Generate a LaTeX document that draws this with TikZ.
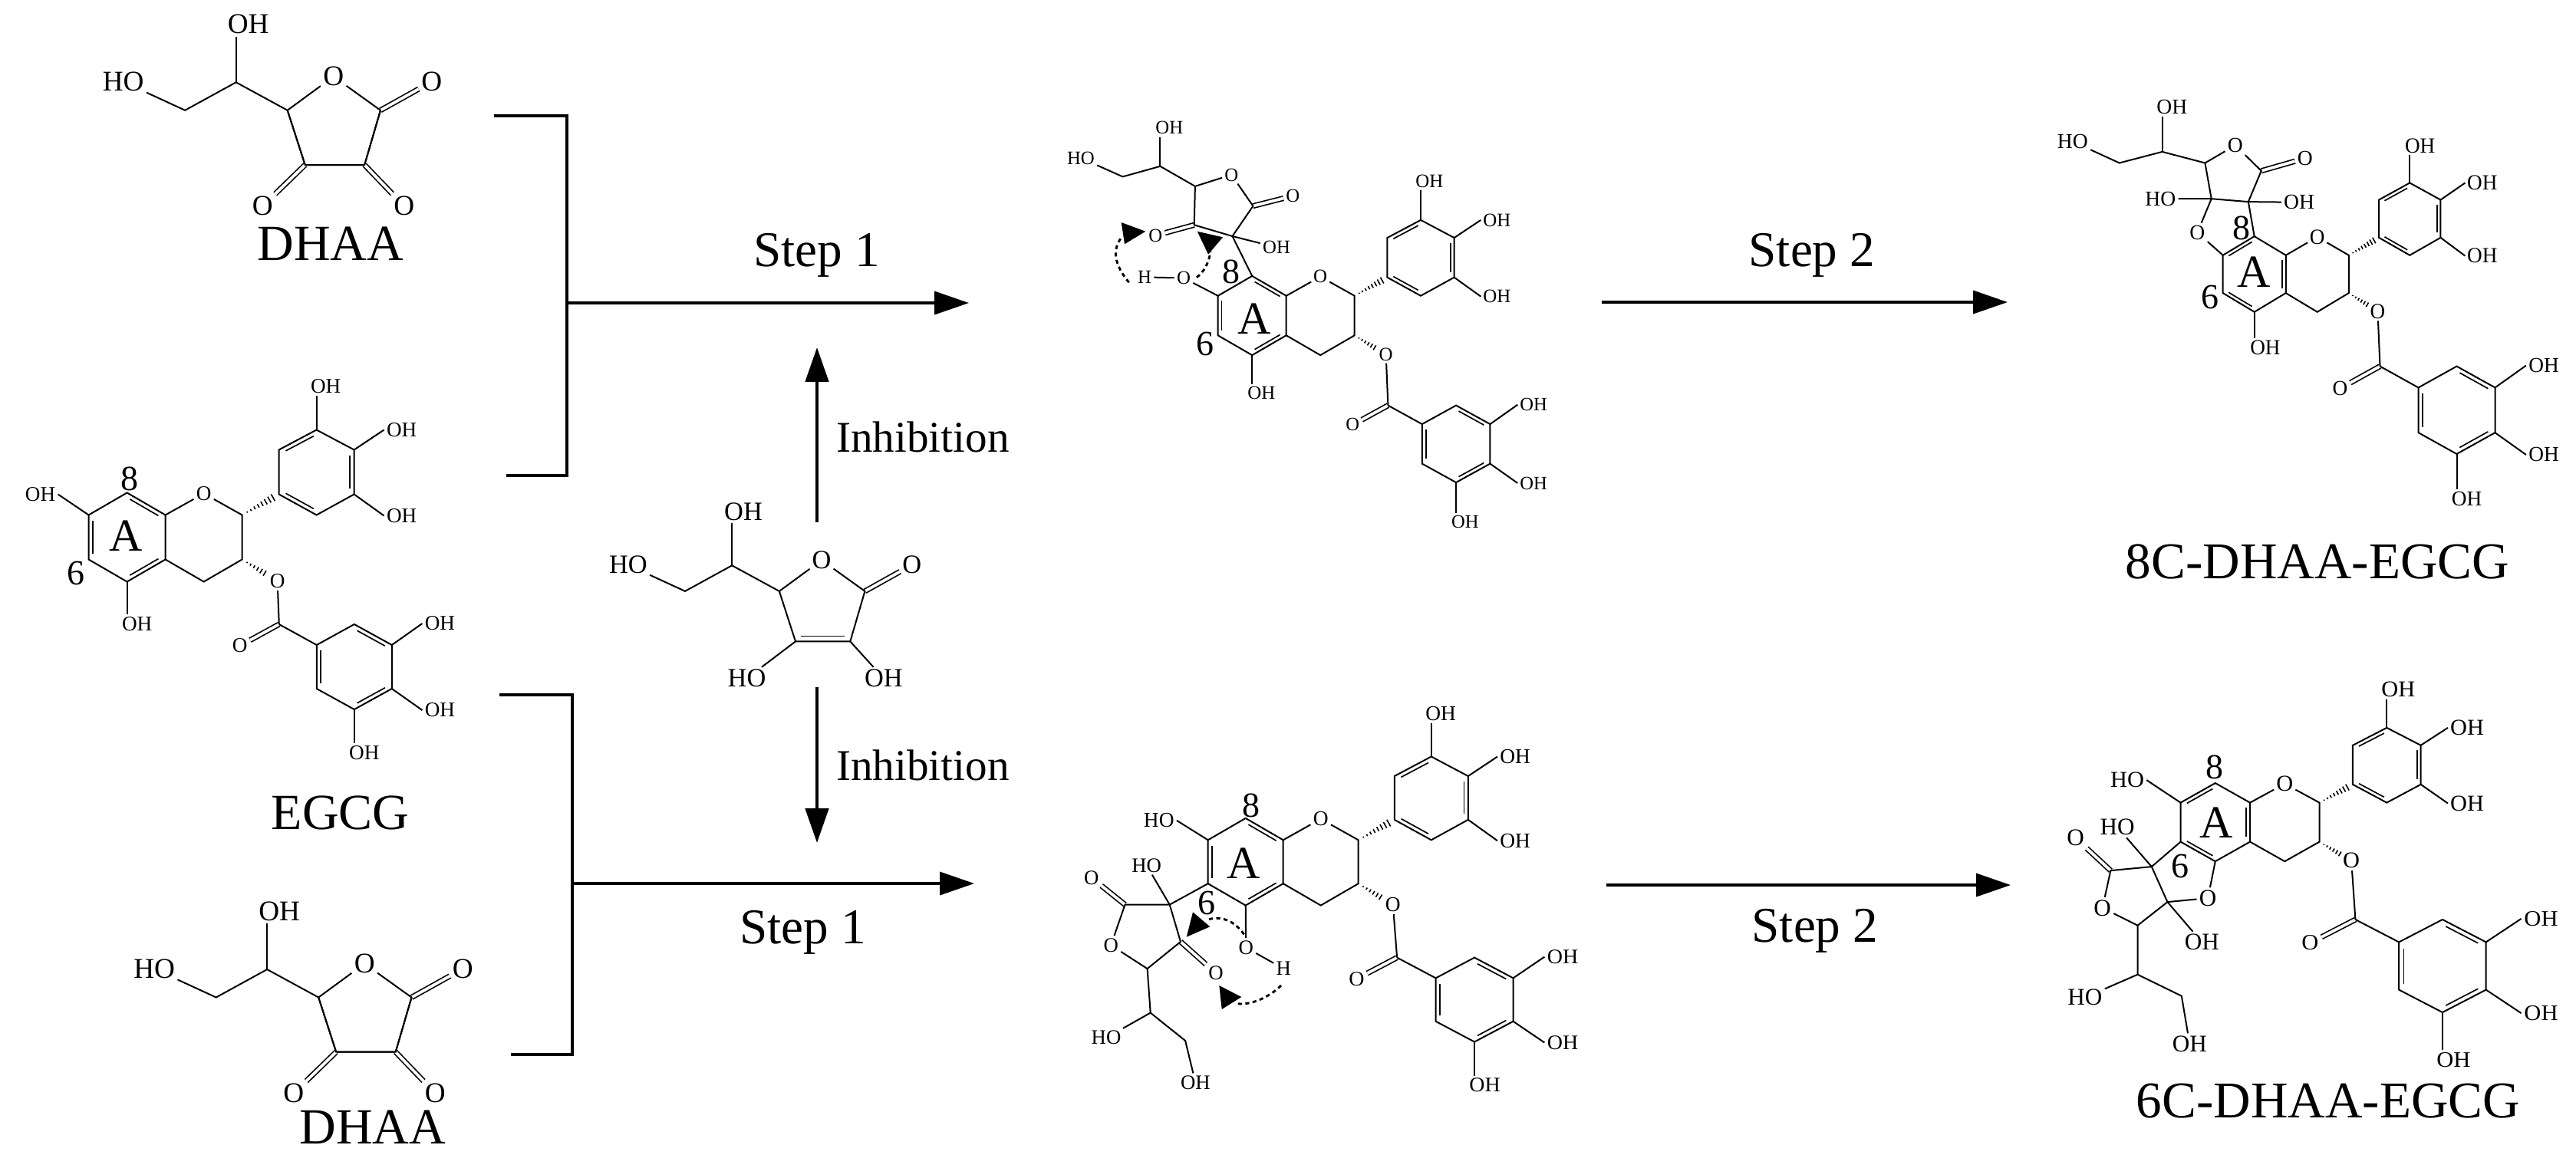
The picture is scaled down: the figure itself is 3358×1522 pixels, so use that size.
\documentclass[tikz,border=0pt]{standalone}
\usepackage{fontspec}
\setmainfont{Liberation Serif}
\usetikzlibrary{calc,arrows.meta}

\newcommand{\fs}[1]{\fontsize{#1}{#1}\selectfont}
\tikzset{
  atom/.style={inner sep=.6pt, transform shape},
  ringlab/.style={inner sep=0pt, font=\fs{11.5}},
  ringname/.style={inner sep=0pt, font=\fs{15}},
  title/.style={inner sep=0pt, font=\fs{16.5}},
  flowtext/.style={inner sep=0pt, font=\fs{16.3}},
  inhtext/.style={inner sep=0pt, font=\fs{14.3}},
  flow/.style={line width=.85pt},
  thickflow/.style={line width=1.1pt},
  dbl/.style={double, double distance=.95pt, line width=.42pt},
  curly/.style={line width=.72pt, dash pattern=on 1.3pt off 1.1pt},
}

% second line of a ring double bond, a to b clockwise round the ring
\newcommand{\innerbond}[2]{\draw[line width=.42pt] ($(#1)!.13!(#2)!1.35pt!-90:(#2)$) -- ($(#2)!.13!(#1)!1.35pt!90:(#1)$);}
\newcommand{\hashbond}[3]{\foreach \pos in {#3} \draw[line width=.4pt] ($(#1)!\pos!(#2)!\pos*1.5pt!90:(#2)$) -- ($(#1)!\pos!(#2)!\pos*1.5pt!-90:(#2)$);}

% rings A, C and B of the catechin part
\newcommand{\egcgcore}{
\coordinate (C7) at (-100,0);
\coordinate (C8) at (-50,-29);
\coordinate (C8a) at (0,0);
\coordinate (C4a) at (0,58);
\coordinate (C5) at (-50,87);
\coordinate (C6) at (-100,58);
\coordinate (C2) at (100,0);
\coordinate (C3) at (100,58);
\coordinate (C4) at (50,87);
\coordinate (B1) at (148,-27);
\coordinate (B2) at (148,-85);
\coordinate (B3) at (197,-111);
\coordinate (B4) at (246,-85);
\coordinate (B5) at (246,-27);
\coordinate (B6) at (197,0);
\node[atom] (O1) at (50,-28) {O};
\node[atom] (O3) at (146,86) {O};
\node[atom,anchor=west] (OHa) at (186,-168) {OH};
\node[atom,anchor=west] (OHb) at (285,-111) {OH};
\node[atom,anchor=west] (OHc) at (285,1) {OH};
\draw (C7) -- (C8) -- (C8a) -- (C4a) -- (C5) -- (C6) -- cycle;
\draw (C8a) -- (O1) -- (C2) -- (C3) -- (C4) -- (C4a);
\draw (B1) -- (B2) -- (B3) -- (B4) -- (B5) -- (B6) -- cycle;
\draw (B3) -- (B3 |- OHa.south);
\draw (B4) -- (OHb.west);
\draw (B5) -- (OHc.west);
\hashbond{C2}{B1}{.14,.24,...,.94}
\hashbond{C3}{O3}{.14,.24,...,.74}
\innerbond{B2}{B3}
\innerbond{B4}{B5}
\innerbond{B6}{B1}
}
\newcommand{\ringAfirst}{\innerbond{C8}{C8a}\innerbond{C4a}{C5}\innerbond{C6}{C7}}
\newcommand{\ringAsecond}{\innerbond{C7}{C8}\innerbond{C8a}{C4a}\innerbond{C5}{C6}}
\newcommand{\cfivehydroxyl}{
\node[atom,anchor=west] (OHh) at (-60,142) {OH};
\draw (C5) -- (C5 |- OHh.north);
}

% the gallate ester, origin at its carbonyl carbon
\newcommand{\gallate}{
\coordinate (Cc) at (0,0);
\coordinate (G1) at (49,27);
\coordinate (G2) at (98,0);
\coordinate (G3) at (147,27);
\coordinate (G4) at (147,84);
\coordinate (G5) at (98,111);
\coordinate (G6) at (49,84);
\node[atom] (Oc) at (-51,28) {O};
\node[atom,anchor=west] (OHd) at (186.6,-1) {OH};
\node[atom,anchor=west] (OHe) at (186.6,112) {OH};
\node[atom,anchor=west] (OHf) at (88,168) {OH};
\draw[dbl] (Cc) -- (Oc);
\draw (Cc) -- (G1);
\draw (G1) -- (G2) -- (G3) -- (G4) -- (G5) -- (G6) -- cycle;
\draw (G3) -- (OHd.west);
\draw (G4) -- (OHe.west);
\draw (G5) -- (G5 |- OHf.north);
\innerbond{G2}{G3}
\innerbond{G4}{G5}
\innerbond{G6}{G1}
}

% lactone ring and side chain, origin at the CH(OH)
\newcommand{\lactone}{
\coordinate (c1) at (0,0);
\coordinate (c2) at (-66.5,36.5);
\coordinate (c3) at (67,36.5);
\coordinate (c4) at (188.3,36.5);
\coordinate (c5) at (167.5,107.7);
\coordinate (c6) at (90,107.7);
\node[atom] (Or) at (127,-7.5) {O};
\node[atom] (Oa) at (255,-.7) {O};
\node[atom] (HOs) at (-147,-.6) {HO};
\node[atom,anchor=west] (OHs) at (-14.3,-75.6) {OH};
\draw[dbl] (c4) -- (Oa);
\draw (HOs) -- (c2) -- (c1) -- (c3) -- (Or) -- (c4) -- (c5) -- (c6) -- (c3);
\draw (c1) -- (c1 |- OHs.south);
}

\begin{document}
\begin{tikzpicture}[x=.25pt,y=-.25pt,line width=.5pt,>={Triangle[length=11.2pt,width=7.5pt]}]
\useasboundingbox (0,0) rectangle (3358,1522);

% reagents on the left
\begin{scope}[name prefix=dhup-,shift={(307.7,107.3)},font=\fs{9.3}]
\lactone
\node[atom] (Ob) at (219,161.4) {O};
\node[atom] (Oe) at (34.7,161.4) {O};
\draw[dbl] (c5) -- (Ob);
\draw[dbl] (c6) -- (Oe);
\draw (c4) -- (c5) -- (c6) -- (c3);
\end{scope}
\node[title] (dhaaup) at (431,318) {DHAA};

\begin{scope}[name prefix=egcg-]
\begin{scope}[shift={(215.6,671.5)},font=\fs{6.8}]
\egcgcore
\ringAfirst
\cfivehydroxyl
\node[atom,anchor=east] (OHg) at (-140,-27) {OH};
\draw (C7) -- (OHg.east);
\node[ringlab] (lab8) at (-47,-47) {8};
\node[ringlab] (lab6) at (-116.5,75.5) {6};
\node[ringname] (labA) at (-51,27.6) {A};
\end{scope}
\begin{scope}[shift={(363.8,814)},font=\fs{6.8}]
\gallate
\end{scope}
\draw (O3) -- (Cc);
\end{scope}
\node[title] (egcgname) at (443.8,1060) {EGCG};

\begin{scope}[name prefix=dhlow-,shift={(348.2,1264)},font=\fs{9.3}]
\lactone
\node[atom] (Ob) at (219,161.4) {O};
\node[atom] (Oe) at (34.7,161.4) {O};
\draw[dbl] (c5) -- (Ob);
\draw[dbl] (c6) -- (Oe);
\draw (c4) -- (c5) -- (c6) -- (c3);
\end{scope}
\node[title] (dhaalow) at (486,1470) {DHAA};

% ascorbic acid in the middle
\begin{scope}[name prefix=asc-,shift={(954.2,737.3)},scale=.92,font=\fs{9.35}]
\lactone
\node[atom] (OHr) at (214.9,160) {OH};
\node[atom] (HOl) at (21,160) {HO};
\draw (c5) -- (OHr);
\draw (c6) -- (HOl);
\draw[line width=.42pt] ($(c6)!.1!(c5)+(0,1.9pt)$) -- ($(c5)!.1!(c6)+(0,1.9pt)$);
\end{scope}

% brackets and reaction arrows
\coordinate (brUa) at (644,151);
\coordinate (brUb) at (739,151);
\coordinate (brUc) at (739,620);
\coordinate (brUd) at (660,620);
\coordinate (brUj) at (739,395);
\coordinate (brUe) at (1263,395);
\coordinate (brLa) at (651,906);
\coordinate (brLb) at (746,906);
\coordinate (brLc) at (746,1375);
\coordinate (brLd) at (666,1375);
\coordinate (brLj) at (746,1152);
\coordinate (brLe) at (1270,1152);
\draw[flow] (brUa) -- (brUb) -- (brUc) -- (brUd);
\draw[flow,->] (brUj) -- (brUe);
\draw[flow] (brLa) -- (brLb) -- (brLc) -- (brLd);
\draw[flow,->] (brLj) -- (brLe);
\coordinate (inhUa) at (1065,681);
\coordinate (inhUb) at (1065,453);
\coordinate (inhLa) at (1065,896);
\coordinate (inhLb) at (1065,1099);
\draw[thickflow,->] (inhUa) -- (inhUb);
\draw[thickflow,->] (inhLa) -- (inhLb);
\node[inhtext] (inhU) at (1203,570) {Inhibition};
\node[inhtext] (inhL) at (1203,998) {Inhibition};
\node[flowtext] (stepUa) at (1065,333) {Step 1};
\node[flowtext] (stepLa) at (1047,1216) {Step 1};
\coordinate (stepUs) at (2088,394);
\coordinate (stepUe) at (2617,394);
\coordinate (stepLs) at (2094,1154);
\coordinate (stepLe) at (2621,1154);
\draw[flow,->] (stepUs) -- (stepUe);
\draw[flow,->] (stepLs) -- (stepLe);
\node[flowtext] (stepUb) at (2362,333) {Step 2};
\node[flowtext] (stepLb) at (2366,1214) {Step 2};

% intermediate at C8
\begin{scope}[name prefix=mid8-]
\begin{scope}[shift={(1676.7,385.7)},scale=.89,font=\fs{7}]
\egcgcore
\ringAfirst
\cfivehydroxyl
\node[ringlab] (lab8) at (-81,-35) {8};
\node[ringlab] (lab6) at (-119,70) {6};
\node[ringname] (labA) at (-47,34) {A};
\end{scope}
\begin{scope}[shift={(1809.4,528.6)},scale=.905,font=\fs{6.8}]
\gallate
\end{scope}
\draw (O3) -- (Cc);
\begin{scope}[font=\fs{6.2}]
\coordinate (a1) at (1512.4,216.8);
\coordinate (a2) at (1463.5,230.4);
\coordinate (a3) at (1557.9,242.9);
\coordinate (a4) at (1633.4,268.6);
\coordinate (a5) at (1556.7,293.3);
\coordinate (a6) at (1606.5,308);
\node[atom] (HOs) at (1408.9,206) {HO};
\node[atom,anchor=west] (OHs) at (1503,166.8) {OH};
\node[atom] (Or) at (1605.3,227.9) {O};
\node[atom] (Oa) at (1685.4,255.4) {O};
\node[atom] (Ob) at (1506.4,307) {O};
\node[atom] (OHt) at (1664,322.5) {OH};
\node[atom] (Op) at (1543,362.5) {O};
\node[atom] (Hp) at (1492,361.4) {H};
\draw[dbl] (a4) -- (Oa);
\draw[dbl] (a5) -- (Ob);
\draw (HOs) -- (a2) -- (a1) -- (a3) -- (Or) -- (a4) -- (a6) -- (a5) -- (a3);
\draw (a1) -- (a1 |- OHs.south);
\draw (a6) -- (OHt);
\draw (a6) -- (C8);
\draw (Hp) -- (Op) -- (C7);
\end{scope}
\coordinate (cuA) at (1471.7,368.3);
\coordinate (cuB) at (1461.7,310);
\coordinate (cuC) at (1560,361.7);
\coordinate (cuD) at (1578,328);
\draw[curly] (cuA) .. controls (1452,345) and (1450,325) .. (cuB);
\draw[curly] (cuC) .. controls (1570,354) and (1576,342) .. (cuD);
\fill (1461.7,290) -- (1493.3,301.7) -- (1466,318.3) -- cycle;
\fill (1560.7,301.7) -- (1594,309.3) -- (1575,331.7) -- cycle;
\end{scope}

% intermediate at C6
\begin{scope}[name prefix=mid6-]
\begin{scope}[shift={(1672.7,1095.3)},scale=.98,font=\fs{7}]
\egcgcore
\ringAfirst
\node[atom,anchor=east] (HOg) at (-141.6,-26) {HO};
\draw (C7) -- (HOg.east);
\node[ringlab] (lab8) at (-43,-46) {8};
\node[ringlab] (lab6) at (-102,84) {6};
\node[ringname] (labA) at (-53,31) {A};
\end{scope}
\begin{scope}[shift={(1821.1,1248.6)},xscale=1.03,yscale=.99,font=\fs{6.8}]
\gallate
\end{scope}
\draw (O3) -- (Cc);
\begin{scope}[font=\fs{6.7}]
\coordinate (a1) at (1524.7,1179.6);
\coordinate (a2) at (1539,1227.9);
\coordinate (a3) at (1466.5,1179.6);
\coordinate (a4) at (1495.6,1263.1);
\coordinate (a5) at (1499.7,1320.6);
\coordinate (a6) at (1545.1,1357);
\node[atom] (HOa) at (1494.6,1128.3) {HO};
\node[atom] (Oa) at (1584.9,1268.9) {O};
\node[atom] (Ob) at (1422.7,1144.4) {O};
\node[atom] (Or) at (1448.2,1232.5) {O};
\node[atom] (HOb) at (1442,1353.2) {HO};
\node[atom] (OHb) at (1558.4,1411.8) {OH};
\node[atom] (Op) at (1624.2,1235.6) {O};
\node[atom] (Hp) at (1673.2,1263.1) {H};
\draw[dbl] (a2) -- (Oa);
\draw[dbl] (a3) -- (Ob);
\draw (C6) -- (a1) -- (a3) -- (Or) -- (a4) -- (a2) -- (a1) -- (HOa);
\draw (a4) -- (a5) -- (a6) -- (OHb);
\draw (a5) -- (HOb);
\draw (C5) -- (Op) -- (Hp);
\end{scope}
\coordinate (cuA) at (1621.7,1218.3);
\coordinate (cuB) at (1572,1200);
\coordinate (cuC) at (1670,1285);
\coordinate (cuD) at (1610,1308.3);
\draw[curly] (cuA) .. controls (1605,1195) and (1585,1195) .. (cuB);
\draw[curly] (cuC) .. controls (1655,1300) and (1630,1312) .. (cuD);
\fill (1555,1189.3) -- (1577.3,1208.3) -- (1546.7,1221.7) -- cycle;
\fill (1589.3,1285) -- (1618.3,1300) -- (1592.7,1316) -- cycle;
\end{scope}

% product at C8
\begin{scope}[name prefix=prod8-]
\begin{scope}[shift={(2979.7,332.8)},xscale=.82,yscale=.85,font=\fs{8.3}]
\egcgcore
\ringAsecond
\cfivehydroxyl
\node[ringlab] (lab8) at (-71,-41.5) {8};
\node[ringlab] (lab6) at (-121,64.5) {6};
\node[ringname] (labA) at (-51,26) {A};
\end{scope}
\begin{scope}[shift={(3102.5,477.6)},xscale=1.02,yscale=1.03,font=\fs{6.7}]
\gallate
\end{scope}
\draw (O3) -- (Cc);
\begin{scope}[font=\fs{6.9}]
\coordinate (a1) at (2818.6,197.9);
\coordinate (a2) at (2762.7,212.5);
\coordinate (a3) at (2874.4,212.5);
\coordinate (a4) at (2947.7,222.8);
\coordinate (a5) at (2882.7,259.2);
\coordinate (a6) at (2930.8,263.1);
\node[atom,anchor=west] (OHa) at (2808,139.7) {OH};
\node[atom] (HOs) at (2701.8,184.5) {HO};
\node[atom] (Or) at (2913.8,189.5) {O};
\node[atom] (Oa) at (3004.9,206.4) {O};
\node[atom] (HOb) at (2816.3,259.2) {HO};
\node[atom] (OHb) at (2997.1,263.8) {OH};
\node[atom] (Ol) at (2864.4,303.3) {O};
\draw[dbl] (a4) -- (Oa);
\draw (HOs) -- (a2) -- (a1) -- (a3) -- (Or) -- (a4) -- (a6) -- (a5) -- (a3);
\draw (a1) -- (a1 |- OHa.south);
\draw (HOb) -- (a5) -- (Ol) -- (C7);
\draw (OHb) -- (a6) -- (C8);
\end{scope}
\end{scope}
\node[title,font=\fs{16.8}] (prod8name) at (3021,732) {8C-DHAA-EGCG};

% product at C6
\begin{scope}[name prefix=prod6-]
\begin{scope}[shift={(2933,1046.6)},xscale=.905,yscale=.88,font=\fs{8.4}]
\egcgcore
\ringAsecond
\node[atom,anchor=east] (HOg) at (-149,-33.5) {HO};
\draw (C7) -- (HOg.east);
\node[ringlab] (lab8) at (-50.6,-53) {8};
\node[ringlab] (lab6) at (-101,94) {6};
\node[ringname] (labA) at (-49,29.6) {A};
\end{scope}
\begin{scope}[shift={(3070.4,1199)},xscale=1.158,yscale=1.09,font=\fs{6.6}]
\gallate
\end{scope}
\draw (O3) -- (Cc);
\begin{scope}[font=\fs{7.8}]
\coordinate (a1) at (2804.8,1130.1);
\coordinate (a2) at (2825.4,1176.1);
\coordinate (a3) at (2751.3,1135.1);
\coordinate (a4) at (2786.5,1206.7);
\coordinate (a5) at (2786.5,1270.7);
\coordinate (a6) at (2843.8,1298.7);
\node[atom] (HOa) at (2760,1078.4) {HO};
\node[atom] (Ol) at (2878.1,1171.1) {O};
\node[atom] (OHa) at (2870.3,1228.6) {OH};
\node[atom] (Ob) at (2705.5,1092.6) {O};
\node[atom] (Or) at (2740.7,1183.8) {O};
\node[atom] (HOb) at (2717.8,1300.6) {HO};
\node[atom] (OHb) at (2854.3,1361.1) {OH};
\draw[dbl] (a3) -- (Ob);
\draw (C6) -- (a1) -- (a3) -- (Or) -- (a4) -- (a2) -- (a1) -- (HOa);
\draw (a2) -- (Ol) -- (C5);
\draw (a2) -- (OHa);
\draw (a4) -- (a5) -- (a6) -- (OHb);
\draw (a5) -- (HOb);
\end{scope}
\end{scope}
\node[title,font=\fs{16.8}] (prod6name) at (3035,1436) {6C-DHAA-EGCG};
\end{tikzpicture}
\end{document}
